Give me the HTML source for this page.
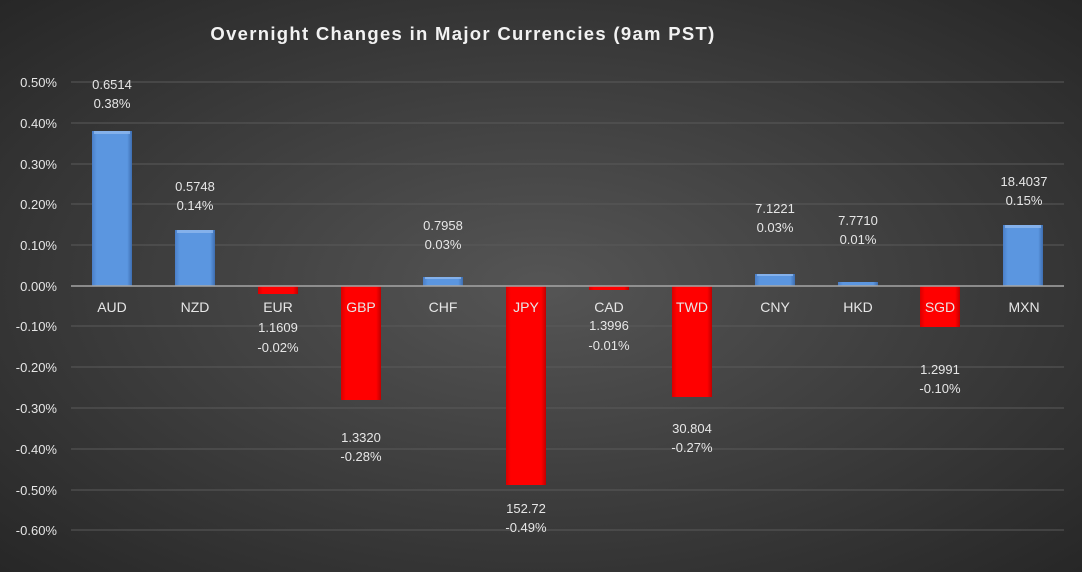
<!DOCTYPE html>
<html><head><meta charset="utf-8"><style>
html,body{margin:0;padding:0;background:#333}
svg{display:block}
text{font-family:"Liberation Sans",Arial,sans-serif;fill:#e6e6e6}
</style></head><body>
<svg width="1082" height="572" viewBox="0 0 1082 572" xmlns="http://www.w3.org/2000/svg">
<defs>
<radialGradient id="bg" cx="0.5" cy="0.5" r="0.75">
<stop offset="0" stop-color="#555555"/>
<stop offset="1" stop-color="#242424"/>
</radialGradient>
<linearGradient id="blue" x1="0" x2="1" y1="0" y2="0">
<stop offset="0" stop-color="#4a7fc8"/><stop offset="0.12" stop-color="#5b96e0"/>
<stop offset="0.88" stop-color="#5b96e0"/><stop offset="1" stop-color="#3e6eb0"/>
</linearGradient>
<linearGradient id="red" x1="0" x2="1" y1="0" y2="0">
<stop offset="0" stop-color="#d80000"/><stop offset="0.12" stop-color="#ff0000"/>
<stop offset="0.88" stop-color="#ff0000"/><stop offset="1" stop-color="#c00000"/>
</linearGradient>
</defs>
<rect width="1082" height="572" fill="url(#bg)"/>
<text x="463" y="40" text-anchor="middle" font-size="18.5" font-weight="bold" letter-spacing="1.3" style="fill:#f2f2f2">Overnight Changes in Major Currencies (9am PST)</text>
<g stroke="#5a5a5a" stroke-width="1">
<line x1="71" x2="1064" y1="82" y2="82"/><line x1="71" x2="1064" y1="123" y2="123"/>
<line x1="71" x2="1064" y1="164" y2="164"/><line x1="71" x2="1064" y1="204" y2="204"/>
<line x1="71" x2="1064" y1="245" y2="245"/><line x1="71" x2="1064" y1="326" y2="326"/>
<line x1="71" x2="1064" y1="367" y2="367"/><line x1="71" x2="1064" y1="408" y2="408"/>
<line x1="71" x2="1064" y1="449" y2="449"/><line x1="71" x2="1064" y1="490" y2="490"/>
<line x1="71" x2="1064" y1="530" y2="530"/>
</g>
<g font-size="13" text-anchor="end">
<text x="57" y="87">0.50%</text><text x="57" y="128">0.40%</text><text x="57" y="169">0.30%</text>
<text x="57" y="209">0.20%</text><text x="57" y="250">0.10%</text><text x="57" y="291">0.00%</text>
<text x="57" y="331">-0.10%</text><text x="57" y="372">-0.20%</text><text x="57" y="413">-0.30%</text>
<text x="57" y="454">-0.40%</text><text x="57" y="495">-0.50%</text><text x="57" y="535">-0.60%</text>
</g>
<g>
<rect x="92" y="131" width="40" height="155" fill="url(#blue)"/>
<rect x="175" y="230" width="40" height="56" fill="url(#blue)"/>
<rect x="258" y="286" width="40" height="8" fill="url(#red)"/>
<rect x="341" y="286" width="40" height="114" fill="url(#red)"/>
<rect x="423" y="277" width="40" height="9" fill="url(#blue)"/>
<rect x="506" y="286" width="40" height="199" fill="url(#red)"/>
<rect x="589" y="286" width="40" height="4" fill="url(#red)"/>
<rect x="672" y="286" width="40" height="111" fill="url(#red)"/>
<rect x="755" y="274" width="40" height="12" fill="url(#blue)"/>
<rect x="838" y="282" width="40" height="4" fill="url(#blue)"/>
<rect x="920" y="286" width="40" height="41" fill="url(#red)"/>
<rect x="1003" y="225" width="40" height="61" fill="url(#blue)"/>
</g>
<g fill="#8fb8ee" opacity="0.8">
<rect x="94" y="131" width="36" height="3"/><rect x="177" y="230" width="36" height="3"/>
<rect x="425" y="277" width="36" height="2"/><rect x="757" y="274" width="36" height="2"/>
<rect x="1005" y="225" width="36" height="3"/>
</g>
<line x1="71" x2="1064" y1="286" y2="286" stroke="#a6a6a6" stroke-width="1.5"/>
<g font-size="14" text-anchor="middle">
<text x="112" y="312">AUD</text><text x="195" y="312">NZD</text><text x="278" y="312">EUR</text>
<text x="361" y="312">GBP</text><text x="443" y="312">CHF</text><text x="526" y="312">JPY</text>
<text x="609" y="312">CAD</text><text x="692" y="312">TWD</text><text x="775" y="312">CNY</text>
<text x="858" y="312">HKD</text><text x="940" y="312">SGD</text><text x="1024" y="312">MXN</text>
</g>
<g font-size="13" text-anchor="middle">
<text x="112" y="89">0.6514</text><text x="112" y="108">0.38%</text>
<text x="195" y="191">0.5748</text><text x="195" y="210">0.14%</text>
<text x="278" y="332">1.1609</text><text x="278" y="352">-0.02%</text>
<text x="361" y="442">1.3320</text><text x="361" y="461">-0.28%</text>
<text x="443" y="230">0.7958</text><text x="443" y="249">0.03%</text>
<text x="526" y="513">152.72</text><text x="526" y="532">-0.49%</text>
<text x="609" y="330">1.3996</text><text x="609" y="350">-0.01%</text>
<text x="692" y="433">30.804</text><text x="692" y="452">-0.27%</text>
<text x="775" y="213">7.1221</text><text x="775" y="232">0.03%</text>
<text x="858" y="225">7.7710</text><text x="858" y="244">0.01%</text>
<text x="940" y="374">1.2991</text><text x="940" y="393">-0.10%</text>
<text x="1024" y="186">18.4037</text><text x="1024" y="205">0.15%</text>
</g>
</svg>
</body></html>
